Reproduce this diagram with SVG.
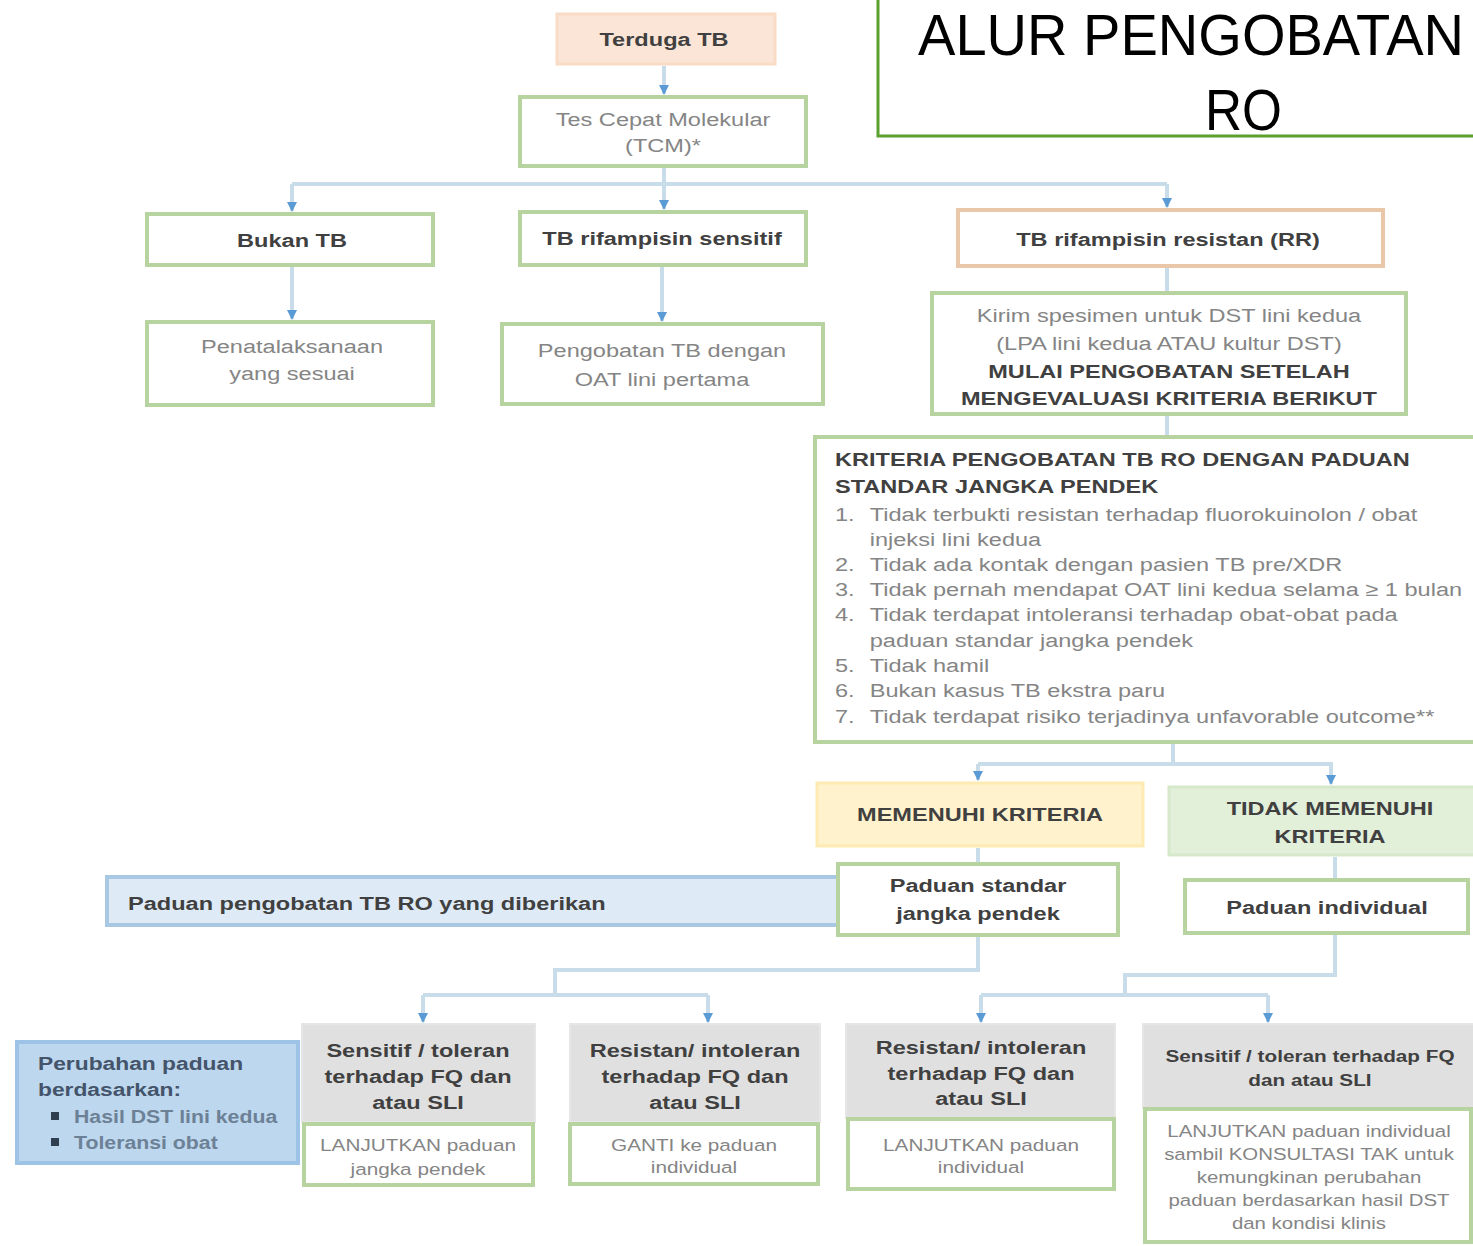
<svg xmlns="http://www.w3.org/2000/svg" width="1473" height="1246" viewBox="0 0 1473 1246">
<defs>
<style>
text{font-family:"Liberation Sans",Arial,sans-serif;font-size:19px;}
.c{text-anchor:middle;}
.b{font-weight:bold;fill:#404040;}
.r{fill:#858585;}
.s{font-size:17px;}
.g{fill:#ffffff;stroke:#b7d39f;stroke-width:4;}
.h{fill:#e0e0e0;stroke:#e6e6e6;stroke-width:2;}
.ln{fill:none;stroke:#c9dce9;stroke-width:4;}
</style>
<marker id="ah" markerUnits="userSpaceOnUse" markerWidth="10" markerHeight="10" refX="9" refY="5" orient="auto">
<path d="M0,0 L10,5 L0,10 z" fill="#5b9bd5"/>
</marker>
</defs>
<rect width="1473" height="1246" fill="#ffffff"/>

<g id="title">
<rect x="878" y="-5" width="605" height="141" fill="#ffffff" stroke="#5aa02c" stroke-width="3"/>
<text x="918" y="55" style="font-size:58px" fill="#000" textLength="546" lengthAdjust="spacingAndGlyphs">ALUR PENGOBATAN</text>
<text x="1205" y="130" style="font-size:58px" fill="#000" textLength="77" lengthAdjust="spacingAndGlyphs">RO</text>
</g>

<g id="connectors">
<path class="ln" d="M664,66 V94" marker-end="url(#ah)"/>
<path class="ln" d="M664,168 V184 M292,184 H1167"/>
<path class="ln" d="M292,184 V211" marker-end="url(#ah)"/>
<path class="ln" d="M664,184 V209" marker-end="url(#ah)"/>
<path class="ln" d="M1167,184 V207" marker-end="url(#ah)"/>
<path class="ln" d="M292,267 V319" marker-end="url(#ah)"/>
<path class="ln" d="M662,267 V321" marker-end="url(#ah)"/>
<path class="ln" d="M1167,268 V292"/>
<path class="ln" d="M1167,416 V436"/>
<path class="ln" d="M1173,744 V764 M978,764 H1333"/>
<path class="ln" d="M978,764 V780" marker-end="url(#ah)"/>
<path class="ln" d="M1331,764 V784" marker-end="url(#ah)"/>
<path class="ln" d="M978,848 V862"/>
<path class="ln" d="M1335,857 V878"/>
<path class="ln" d="M978,937 V970 H555 V995 M423,995 H708"/>
<path class="ln" d="M423,995 V1022" marker-end="url(#ah)"/>
<path class="ln" d="M708,995 V1022" marker-end="url(#ah)"/>
<path class="ln" d="M1335,935 V975 H1125 V995 M981,995 H1268"/>
<path class="ln" d="M981,995 V1022" marker-end="url(#ah)"/>
<path class="ln" d="M1268,995 V1022" marker-end="url(#ah)"/>
</g>

<g id="terduga">
<rect x="557" y="14" width="218" height="50" fill="#fbe5d6" stroke="#f9dcc6" stroke-width="3"/>
<g transform="translate(664 0) scale(1.24 1)"><text class="c b" x="0" y="46">Terduga TB</text></g>
</g>

<g id="tcm">
<rect class="g" x="520" y="97" width="286" height="69"/>
<g transform="translate(663 0) scale(1.24 1)"><text class="c r" x="0" y="126">Tes Cepat Molekular</text><text class="c r" x="0" y="152">(TCM)*</text></g>
</g>

<g id="bukan">
<rect class="g" x="147" y="214" width="286" height="51"/>
<g transform="translate(292 0) scale(1.24 1)"><text class="c b" x="0" y="247">Bukan TB</text></g>
</g>

<g id="sensitif">
<rect class="g" x="520" y="212" width="286" height="53"/>
<g transform="translate(662 0) scale(1.24 1)"><text class="c b" x="0" y="245">TB rifampisin sensitif</text></g>
</g>

<g id="resistan">
<rect x="958" y="210" width="425" height="56" fill="#ffffff" stroke="#eac7a9" stroke-width="4"/>
<g transform="translate(1168 0) scale(1.24 1)"><text class="c b" x="0" y="246">TB rifampisin resistan (RR)</text></g>
</g>

<g id="penatalaksanaan">
<rect class="g" x="147" y="322" width="286" height="83"/>
<g transform="translate(292 0) scale(1.24 1)"><text class="c r" x="0" y="353">Penatalaksanaan</text><text class="c r" x="0" y="380">yang sesuai</text></g>
</g>

<g id="oat">
<rect class="g" x="502" y="324" width="321" height="80"/>
<g transform="translate(662 0) scale(1.24 1)"><text class="c r" x="0" y="357">Pengobatan TB dengan</text><text class="c r" x="0" y="386">OAT lini pertama</text></g>
</g>

<g id="kirim">
<rect class="g" x="932" y="293" width="474" height="121"/>
<g transform="translate(1169 0) scale(1.24 1)">
<text class="c r" x="0" y="322">Kirim spesimen untuk DST lini kedua</text>
<text class="c r" x="0" y="350">(LPA lini kedua ATAU kultur DST)</text>
<text class="c b" x="0" y="378">MULAI PENGOBATAN SETELAH</text>
<text class="c b" x="0" y="405">MENGEVALUASI KRITERIA BERIKUT</text>
</g>
</g>

<g id="kriteria">
<rect class="g" x="815" y="437" width="665" height="305"/>
<g transform="translate(835 0) scale(1.24 1)">
<text class="b" x="0" y="466">KRITERIA PENGOBATAN TB RO DENGAN PADUAN</text>
<text class="b" x="0" y="493">STANDAR JANGKA PENDEK</text>
<text class="r" x="0" y="521">1.</text><text class="r" x="28" y="521">Tidak terbukti resistan terhadap fluorokuinolon / obat</text>
<text class="r" x="28" y="546">injeksi lini kedua</text>
<text class="r" x="0" y="571">2.</text><text class="r" x="28" y="571">Tidak ada kontak dengan pasien TB pre/XDR</text>
<text class="r" x="0" y="596">3.</text><text class="r" x="28" y="596">Tidak pernah mendapat OAT lini kedua selama ≥ 1 bulan</text>
<text class="r" x="0" y="621">4.</text><text class="r" x="28" y="621">Tidak terdapat intoleransi terhadap obat-obat pada</text>
<text class="r" x="28" y="647">paduan standar jangka pendek</text>
<text class="r" x="0" y="672">5.</text><text class="r" x="28" y="672">Tidak hamil</text>
<text class="r" x="0" y="697">6.</text><text class="r" x="28" y="697">Bukan kasus TB ekstra paru</text>
<text class="r" x="0" y="723">7.</text><text class="r" x="28" y="723">Tidak terdapat risiko terjadinya unfavorable outcome**</text>
</g>
</g>

<g id="memenuhi">
<rect x="817" y="783" width="326" height="63" fill="#fff2cc" stroke="#fdebb3" stroke-width="3"/>
<g transform="translate(980 0) scale(1.24 1)"><text class="c b" x="0" y="821">MEMENUHI KRITERIA</text></g>
</g>

<g id="tidak-memenuhi">
<rect x="1169" y="787" width="310" height="68" fill="#e2efd9" stroke="#d6e8ca" stroke-width="3"/>
<g transform="translate(1330 0) scale(1.24 1)"><text class="c b" x="0" y="815">TIDAK MEMENUHI</text><text class="c b" x="0" y="843">KRITERIA</text></g>
</g>

<g id="paduan-diberikan">
<rect x="107" y="877" width="733" height="48" fill="#deebf7" stroke="#a9c8e4" stroke-width="4"/>
<g transform="translate(128 0) scale(1.24 1)"><text class="b" x="0" y="910">Paduan pengobatan TB RO yang diberikan</text></g>
</g>

<g id="paduan-standar">
<rect class="g" x="838" y="864" width="280" height="71"/>
<g transform="translate(978 0) scale(1.24 1)"><text class="c b" x="0" y="892">Paduan standar</text><text class="c b" x="0" y="920">jangka pendek</text></g>
</g>

<g id="paduan-individual">
<rect class="g" x="1185" y="880" width="283" height="53"/>
<g transform="translate(1327 0) scale(1.24 1)"><text class="c b" x="0" y="914">Paduan individual</text></g>
</g>

<g id="perubahan">
<rect x="17" y="1042" width="281" height="121" fill="#bdd7ee" stroke="#9dc3e6" stroke-width="4"/>
<g transform="translate(38 0) scale(1.2 1)">
<text class="b" x="0" y="1070" style="fill:#44546a">Perubahan paduan</text>
<text class="b" x="0" y="1096" style="fill:#44546a">berdasarkan:</text>
</g>
<rect x="51" y="1112" width="8" height="8" fill="#2f3f4f"/>
<rect x="51" y="1138" width="8" height="8" fill="#2f3f4f"/>
<g transform="translate(74 0) scale(1.12 1)">
<text class="b" x="0" y="1123" style="fill:#6d8196">Hasil DST lini kedua</text>
<text class="b" x="0" y="1149" style="fill:#6d8196">Toleransi obat</text>
</g>
</g>

<g id="sensitif-jp">
<rect class="h" x="302" y="1024" width="233" height="98"/>
<g transform="translate(418 0) scale(1.24 1)"><text class="c b" x="0" y="1057">Sensitif / toleran</text><text class="c b" x="0" y="1083">terhadap FQ dan</text><text class="c b" x="0" y="1109">atau SLI</text></g>
<rect class="g" x="304" y="1124" width="229" height="61"/>
<g transform="translate(418 0) scale(1.22 1)"><text class="c r s" x="0" y="1151">LANJUTKAN paduan</text><text class="c r s" x="0" y="1175">jangka pendek</text></g>
</g>

<g id="resistan-jp">
<rect class="h" x="570" y="1024" width="250" height="98"/>
<g transform="translate(695 0) scale(1.24 1)"><text class="c b" x="0" y="1057">Resistan/ intoleran</text><text class="c b" x="0" y="1083">terhadap FQ dan</text><text class="c b" x="0" y="1109">atau SLI</text></g>
<rect class="g" x="570" y="1124" width="248" height="60"/>
<g transform="translate(694 0) scale(1.22 1)"><text class="c r s" x="0" y="1151">GANTI ke paduan</text><text class="c r s" x="0" y="1173">individual</text></g>
</g>

<g id="resistan-ind">
<rect class="h" x="846" y="1024" width="269" height="94"/>
<g transform="translate(981 0) scale(1.24 1)"><text class="c b" x="0" y="1054">Resistan/ intoleran</text><text class="c b" x="0" y="1080">terhadap FQ dan</text><text class="c b" x="0" y="1105">atau SLI</text></g>
<rect class="g" x="848" y="1119" width="266" height="70"/>
<g transform="translate(981 0) scale(1.22 1)"><text class="c r s" x="0" y="1151">LANJUTKAN paduan</text><text class="c r s" x="0" y="1173">individual</text></g>
</g>

<g id="sensitif-ind">
<rect class="h" x="1143" y="1024" width="332" height="84"/>
<g transform="translate(1310 0) scale(1.22 1)"><text class="c b s" x="0" y="1062">Sensitif / toleran terhadap FQ</text><text class="c b s" x="0" y="1086">dan atau SLI</text></g>
<rect class="g" x="1145" y="1109" width="326" height="133"/>
<g transform="translate(1309 0) scale(1.2 1)">
<text class="c r s" x="0" y="1137">LANJUTKAN paduan individual</text>
<text class="c r s" x="0" y="1160">sambil KONSULTASI TAK untuk</text>
<text class="c r s" x="0" y="1183">kemungkinan perubahan</text>
<text class="c r s" x="0" y="1206">paduan berdasarkan hasil DST</text>
<text class="c r s" x="0" y="1229">dan kondisi klinis</text>
</g>
</g>
</svg>
